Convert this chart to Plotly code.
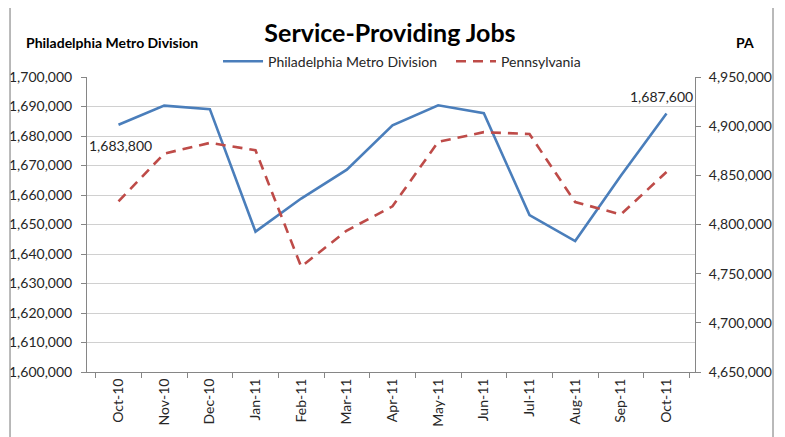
import plotly.graph_objects as go

months = ["Oct-10", "Nov-10", "Dec-10", "Jan-11", "Feb-11", "Mar-11", "Apr-11",
          "May-11", "Jun-11", "Jul-11", "Aug-11", "Sep-11", "Oct-11"]
philly = [1683800, 1690300, 1689100, 1647600, 1658800, 1668600, 1683600,
          1690400, 1687700, 1653200, 1644400, 1666500, 1687600]
penn = [4823500, 4872100, 4883000, 4875500, 4757100, 4793900, 4818500,
        4884000, 4893900, 4892000, 4822800, 4810200, 4853400]

left_ticks = list(range(1600000, 1700001, 10000))
right_ticks = list(range(4650000, 4950001, 50000))

FONT = "Lato, 'Liberation Sans', sans-serif"
TXT = "#262626"
AX = "#868686"
GRID = "#d0d0d0"
FS = 14

fig = go.Figure()
fig.add_trace(go.Scatter(x=months, y=philly, name="Philadelphia Metro Division",
                         mode="lines", line=dict(color="#4a7ebb", width=2.6),
                         yaxis="y", legend="legend"))
fig.add_trace(go.Scatter(x=months, y=penn, name="Pennsylvania",
                         mode="lines", line=dict(color="#be4b48", width=2.6, dash="10px,7px"),
                         yaxis="y2", legend="legend2"))

fig.add_annotation(x=months[0], y=philly[0], xref="x", yref="y",
                   text=f"{philly[0]:,}", showarrow=False, xshift=2, yshift=-21,
                   font=dict(family=FONT, size=FS, color=TXT))
fig.add_annotation(x=months[-1], y=philly[-1], xref="x", yref="y",
                   text=f"{philly[-1]:,}", showarrow=False, xshift=-5, yshift=17,
                   font=dict(family=FONT, size=FS, color=TXT))

fig.add_annotation(x=-0.1036, y=1.116, xref="paper", yref="paper", xanchor="left",
                   yanchor="middle", showarrow=False, text="<b>Philadelphia Metro Division</b>",
                   font=dict(family=FONT, size=14, color="#000"))
fig.add_annotation(x=1.0822, y=1.116, xref="paper", yref="paper", xanchor="center",
                   yanchor="middle", showarrow=False, text="<b>PA</b>",
                   font=dict(family=FONT, size=14, color="#000"))

fig.add_shape(type="rect", xref="paper", yref="paper", x0=-0.1266, x1=1.1283,
              y0=-0.25, y1=1.244, line=dict(color="#8c8c8c", width=1.2),
              fillcolor="rgba(0,0,0,0)")

leg_common = dict(orientation="h", y=1.052, xanchor="left", yanchor="middle",
                  font=dict(family=FONT, size=FS, color=TXT),
                  bgcolor="rgba(0,0,0,0)", itemwidth=40)

fig.update_layout(
    width=785, height=437,
    margin=dict(l=79, r=98, t=69, b=73, autoexpand=False),
    paper_bgcolor="white", plot_bgcolor="white",
    font=dict(family=FONT, size=FS, color=TXT),
    title=dict(text="<b>Service-Providing Jobs</b>", x=0.4866, xanchor="center",
               y=0.943, yanchor="middle",
               font=dict(family=FONT, size=25, color="#000")),
    showlegend=True,
    legend=dict(x=0.2155, **leg_common),
    legend2=dict(x=0.5987, **leg_common),
    xaxis=dict(type="category", tickangle=-90, tickson="boundaries",
               ticks="outside", ticklen=5, tickcolor=AX,
               showline=True, linecolor=AX, linewidth=1, showgrid=False,
               tickfont=dict(family=FONT, size=FS, color=TXT)),
    yaxis=dict(range=[1600000, 1700000], tickvals=left_ticks,
               ticktext=[f"{v:,}" for v in left_ticks],
               ticks="outside", ticklen=5, tickcolor=AX, ticklabelstandoff=6,
               showline=True, linecolor=AX, linewidth=1,
               showgrid=True, gridcolor=GRID, gridwidth=1, zeroline=False,
               tickfont=dict(family=FONT, size=FS, color=TXT)),
    yaxis2=dict(range=[4650000, 4950000], tickvals=right_ticks,
                ticktext=[f"{v:,}" for v in right_ticks],
                overlaying="y", side="right",
                ticks="outside", ticklen=5, tickcolor=AX, ticklabelstandoff=5,
                showline=True, linecolor=AX, linewidth=1,
                showgrid=False, zeroline=False,
                tickfont=dict(family=FONT, size=FS, color=TXT)),
)

fig.write_html("out.html")
